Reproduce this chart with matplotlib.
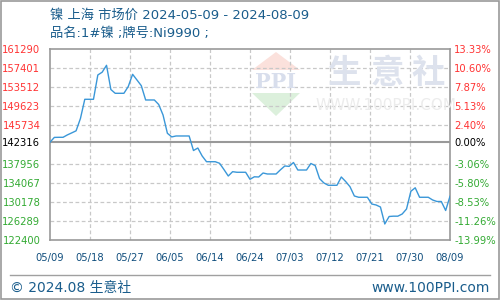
import matplotlib
matplotlib.use("Agg")
import matplotlib.pyplot as plt
from matplotlib.patches import Polygon, Rectangle
from matplotlib.lines import Line2D

plt.rcParams['font.family'] = ['DejaVu Sans', 'Noto Sans CJK SC']

# ---- data ----
title = "镍 上海 市场价 2024-05-09 - 2024-08-09"
subtitle = "品名:1#镍 ;牌号:Ni9990 ;"
base_price = 142316
# daily prices from 2024-05-09 (day 0) to 2024-08-09 (day 92)
prices = [
    142316, 143290, 143310, 143310, 143800, 144210, 144630, 147140, 151050, 151050,
    151050, 156000, 156570, 157970, 153040, 152270, 152270, 152270, 153650, 156140,
    154980, 153820, 150910, 150910, 150910, 149990, 147850, 144130, 143390, 143580,
    143580, 143580, 143580, 140620, 141130, 139500, 138340, 138340, 138340, 138020,
    136760, 135430, 136310, 136190, 136190, 136190, 134760, 135270, 135230, 136040,
    135840, 135840, 135840, 136690, 137470, 137390, 138180, 136650, 136650, 136650,
    137980, 137550, 134900, 134010, 133540, 133540, 133540, 135230, 134310, 133250,
    131360, 131100, 131100, 131100, 129730, 129530, 129120, 125660, 127190, 127250,
    127250, 127690, 128710, 132320, 133030, 131100, 131100, 131100, 130550, 130240,
    130240, 128410, 131300,
]
days = list(range(len(prices)))
x_tick_labels = ["05/09", "05/18", "05/27", "06/05", "06/14", "06/24",
                 "07/03", "07/12", "07/21", "07/30", "08/09"]
y_ticks = [161290, 157401, 153512, 149623, 145734, 142316,
           137956, 134067, 130178, 126289, 122400]
pct_labels = ["13.33%", "10.60%", "7.87%", "5.13%", "2.40%", "0.00%",
              "-3.06%", "-5.80%", "-8.53%", "-11.26%", "-13.99%"]
watermark_chars = ["生", "意", "社"]

W, H = 500, 300
fig = plt.figure(figsize=(W / 100, H / 100), dpi=100)
fig.patch.set_facecolor("white")

# outer border
fig.add_artist(Rectangle((0.001, 0.002), 0.997, 0.995, transform=fig.transFigure,
                         fill=False, edgecolor="#999999", linewidth=1.2))

def fx(px):
    return px / W

def fy(py):
    return 1 - py / H

ax = fig.add_axes([fx(50), fy(240), fx(400), (240 - 49) / H])
ax.set_xlim(0, len(prices) - 1)
ax.set_ylim(y_ticks[-1], y_ticks[0])

# watermark
for ch, px in zip(watermark_chars, [345, 387, 428]):
    fig.text(fx(px), fy(73), ch, fontsize=24, color="#dde2ed",
             family=['Noto Sans CJK SC'], ha="center", va="center",
             fontweight="bold", zorder=0)
fig.text(fx(386), fy(105), "WWW.100PPI.COM", fontsize=11, color="#ececec",
         ha="center", va="center", zorder=0)
ax.add_patch(Polygon([[fx(252), fy(70)], [fx(276), fy(52)], [fx(300), fy(70)]],
                     closed=True, transform=fig.transFigure, facecolor="#fbe1dc",
                     edgecolor="none", zorder=0))
ax.add_patch(Polygon([[fx(252), fy(93)], [fx(276), fy(116)], [fx(300), fy(93)]],
                     closed=True, transform=fig.transFigure, facecolor="#dcf0dc",
                     edgecolor="none", zorder=0))
fig.text(fx(276), fy(82), "PPI", fontsize=15, color="#d8deec", ha="center", va="center",
         fontweight="bold", family=["DejaVu Serif"], zorder=0)

# grid
for v in y_ticks[1:-1]:
    if v == base_price:
        continue
    ax.axhline(v, color="#c8c8c8", linestyle=(0, (3, 2)), linewidth=0.9, zorder=1)
xt = [i * (len(prices) - 1) / 10 for i in range(11)]
for v in xt[1:-1]:
    ax.axvline(v, color="#c8c8c8", linestyle=(0, (3, 2)), linewidth=0.9, zorder=1)
ax.axhline(base_price, color="#999999", linewidth=1.5, zorder=2)

ax.plot(days, prices, color="#3a97d8", linewidth=1.0, zorder=3)

for s in ax.spines.values():
    s.set_color("#999999")
    s.set_linewidth(1.2)

def col(v):
    if v > base_price:
        return "#ff3333"
    if v < base_price:
        return "#33aa33"
    return "black"

ax.set_yticks(y_ticks)
ax.set_yticklabels([str(v) for v in y_ticks], fontsize=7.2)
for lbl, v in zip(ax.get_yticklabels(), y_ticks):
    lbl.set_color(col(v))
ax.tick_params(axis="y", length=0, pad=7)

ax.set_xticks(xt)
ax.set_xticklabels(x_tick_labels, fontsize=7.2, color="#114f7e")
ax.tick_params(axis="x", length=0, pad=9.5)

ax2 = ax.twinx()
ax2.set_ylim(ax.get_ylim())
ax2.set_yticks(y_ticks)
ax2.set_yticklabels(pct_labels, fontsize=7.2)
for lbl, v in zip(ax2.get_yticklabels(), y_ticks):
    lbl.set_color(col(v))
ax2.tick_params(axis="y", length=0, pad=3)
for s in ax2.spines.values():
    s.set_visible(False)

# titles
fig.text(fx(50), fy(15), title, fontsize=9.5, color="#1a5d8c", ha="left", va="center")
fig.text(fx(50), fy(33), subtitle, fontsize=9.5, color="#1a5d8c", ha="left", va="center")

# footer
fig.add_artist(Line2D([fx(10), fx(490)], [fy(275), fy(275)], transform=fig.transFigure,
                      color="#a0a0a0", linewidth=1.0))
fig.text(fx(10), fy(288), "© 2024.08 生意社", fontsize=10, color="#1a5d8c",
         ha="left", va="center")
fig.text(fx(490), fy(288), "www.100PPI.com", fontsize=10, color="#1a5d8c",
         ha="right", va="center")

fig.savefig("out.png", dpi=100, facecolor="white")
